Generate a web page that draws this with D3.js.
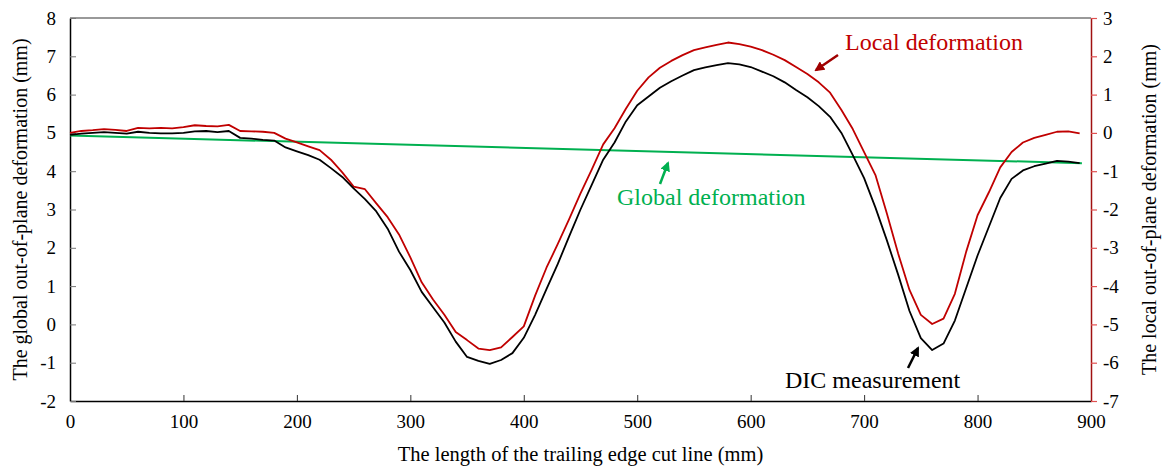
<!DOCTYPE html>
<html>
<head>
<meta charset="utf-8">
<script src="https://cdn.jsdelivr.net/npm/d3@7"></script>
<style>
  body { margin: 0; background: #fff; }
  text { font-family: "Liberation Serif", "Times New Roman", serif; }
</style>
</head>
<body>
<div id="chart"></div>
<script>
// sample positions along the cut line (mm)
const lengthMm = d3.range(0, 900, 10);

// DIC measurement, left axis (mm)
const dicMeasurement = [
  4.95, 4.98, 5.00, 5.02, 5.00, 4.98, 5.03, 5.00, 4.99, 4.99,
  5.00, 5.04, 5.05, 5.02, 5.05, 4.87, 4.85, 4.82, 4.80, 4.62,
  4.52, 4.42, 4.30, 4.08, 3.85, 3.55, 3.27, 2.95, 2.50, 1.90,
  1.42, 0.85, 0.45, 0.05, -0.45, -0.85, -0.95, -1.03, -0.93, -0.75,
  -0.35, 0.25, 0.92, 1.58, 2.30, 3.00, 3.65, 4.30, 4.75, 5.30,
  5.72, 5.95, 6.18, 6.35, 6.50, 6.64, 6.71, 6.77, 6.82, 6.79,
  6.72, 6.60, 6.48, 6.32, 6.12, 5.93, 5.70, 5.42, 5.00, 4.42,
  3.82, 3.05, 2.20, 1.30, 0.35, -0.36, -0.67, -0.50, 0.10, 0.95,
  1.80, 2.55, 3.30, 3.80, 4.02, 4.13, 4.20, 4.27, 4.25, 4.21
];

// local deformation, right axis (mm)
const localDeformation = [
  0.00, 0.05, 0.07, 0.10, 0.08, 0.05, 0.13, 0.12, 0.13, 0.12,
  0.15, 0.20, 0.18, 0.17, 0.21, 0.05, 0.04, 0.03, 0.00, -0.15,
  -0.25, -0.35, -0.45, -0.70, -1.03, -1.40, -1.47, -1.84, -2.20, -2.65,
  -3.25, -3.90, -4.35, -4.75, -5.20, -5.41, -5.63, -5.67, -5.60, -5.33,
  -5.05, -4.25, -3.52, -2.90, -2.25, -1.58, -0.95, -0.30, 0.12, 0.63,
  1.10, 1.45, 1.70, 1.88, 2.03, 2.16, 2.23, 2.30, 2.36, 2.32,
  2.25, 2.16, 2.04, 1.90, 1.72, 1.54, 1.32, 1.05, 0.60, 0.10,
  -0.50, -1.10, -2.10, -3.15, -4.10, -4.75, -4.99, -4.85, -4.20, -3.10,
  -2.15, -1.55, -0.90, -0.50, -0.25, -0.13, -0.05, 0.03, 0.04, -0.01
];

// global deformation, left axis (mm)
const globalLength = [0, 892];
const globalDeformation = [4.93, 4.21];

const xTicks = [0, 100, 200, 300, 400, 500, 600, 700, 800, 900];
const leftTicks = [-2, -1, 0, 1, 2, 3, 4, 5, 6, 7, 8];
const rightTicks = [-7, -6, -5, -4, -3, -2, -1, 0, 1, 2, 3];

const width = 1167, height = 474;
const margin = { top: 18, right: 76, bottom: 73, left: 70 };
const red = "#c00000", green = "#00b050";
const plain = d => String(d); // keep hyphen minus like the original

const svg = d3.select("#chart").append("svg")
  .attr("width", width)
  .attr("height", height);

const x = d3.scaleLinear().domain([0, 900]).range([margin.left, width - margin.right]);
const yLeft = d3.scaleLinear().domain([-2, 8]).range([height - margin.bottom, margin.top]);
const yRight = d3.scaleLinear().domain([-7, 3]).range([height - margin.bottom, margin.top]);

const defs = svg.append("defs");
function addArrow(id, col) {
  defs.append("marker")
    .attr("id", id)
    .attr("viewBox", "0 -5 10 10")
    .attr("refX", 8)
    .attr("refY", 0)
    .attr("markerWidth", 4)
    .attr("markerHeight", 4)
    .attr("orient", "auto")
    .attr("fill", col)
    .append("path")
    .attr("d", "M0,-5L10,0L0,5Z");
}
addArrow("arrRed", "#a00000");
addArrow("arrGreen", green);
addArrow("arrBlack", "#000");

// top frame line
svg.append("line")
  .attr("x1", x(0)).attr("x2", x(900))
  .attr("y1", yLeft(8)).attr("y2", yLeft(8))
  .attr("stroke", "#777").attr("stroke-width", 1.5);

// bottom axis, ticks inside
const xAxis = svg.append("g")
  .attr("transform", `translate(0,${yLeft(-2)})`)
  .call(d3.axisBottom(x).tickValues(xTicks).tickFormat(plain)
    .tickSizeInner(-6).tickSizeOuter(0).tickPadding(14));
xAxis.select(".domain").attr("stroke", "#000").attr("stroke-width", 1.5);
xAxis.selectAll(".tick line").attr("stroke", "#333");
xAxis.selectAll("text").attr("font-size", 19).attr("fill", "#000")
  .attr("font-family", "Liberation Serif");

// left axis, ticks inside
const yAxisL = svg.append("g")
  .attr("transform", `translate(${x(0)},0)`)
  .call(d3.axisLeft(yLeft).tickValues(leftTicks).tickFormat(plain)
    .tickSizeInner(-6).tickSizeOuter(0).tickPadding(14));
yAxisL.select(".domain").attr("stroke", "#000").attr("stroke-width", 1.5);
yAxisL.selectAll(".tick line").attr("stroke", "#777");
yAxisL.selectAll("text").attr("font-size", 19).attr("fill", "#000")
  .attr("font-family", "Liberation Serif");

// right axis, red, ticks outside
const yAxisR = svg.append("g")
  .attr("transform", `translate(${x(900)},0)`)
  .call(d3.axisRight(yRight).tickValues(rightTicks).tickFormat(plain)
    .tickSizeInner(6).tickSizeOuter(0).tickPadding(6));
yAxisR.select(".domain").attr("stroke", "#a01010").attr("stroke-width", 1.5);
yAxisR.selectAll(".tick line").attr("stroke", "#e05050").attr("stroke-width", 1.2);
yAxisR.selectAll("text").attr("font-size", 19).attr("fill", "#000")
  .attr("font-family", "Liberation Serif");

// axis titles
svg.append("text")
  .attr("x", (x(0) + x(900)) / 2)
  .attr("y", 461)
  .attr("text-anchor", "middle")
  .attr("font-size", 20.5)
  .text("The length of the trailing edge cut line (mm)");

svg.append("text")
  .attr("transform", `translate(27,${(yLeft(8) + yLeft(-2)) / 2}) rotate(-90)`)
  .attr("text-anchor", "middle")
  .attr("font-size", 20)
  .text("The global out-of-plane deformation (mm)");

svg.append("text")
  .attr("transform", `translate(1156,${(yLeft(8) + yLeft(-2)) / 2}) rotate(-90)`)
  .attr("text-anchor", "middle")
  .attr("font-size", 20)
  .text("The local out-of-plane deformation (mm)");

// series
const dicLine = d3.line()
  .x((d, i) => x(lengthMm[i]))
  .y(d => yLeft(d));
const localLine = d3.line()
  .x((d, i) => x(lengthMm[i]))
  .y(d => yRight(d));
const globalLine = d3.line()
  .x((d, i) => x(globalLength[i]))
  .y(d => yLeft(d));

svg.append("path")
  .datum(globalDeformation)
  .attr("d", globalLine)
  .attr("fill", "none")
  .attr("stroke", green)
  .attr("stroke-width", 2);

svg.append("path")
  .datum(localDeformation)
  .attr("d", localLine)
  .attr("fill", "none")
  .attr("stroke", red)
  .attr("stroke-width", 1.8)
  .attr("stroke-linejoin", "round");

svg.append("path")
  .datum(dicMeasurement)
  .attr("d", dicLine)
  .attr("fill", "none")
  .attr("stroke", "#000")
  .attr("stroke-width", 1.8)
  .attr("stroke-linejoin", "round");

// annotations
svg.append("text")
  .attr("x", 845).attr("y", 50)
  .attr("font-size", 24)
  .attr("fill", red)
  .text("Local deformation");
svg.append("line")
  .attr("x1", 838).attr("y1", 55).attr("x2", 816).attr("y2", 70)
  .attr("stroke", "#a00000").attr("stroke-width", 2.5)
  .attr("marker-end", "url(#arrRed)");

svg.append("text")
  .attr("x", 617).attr("y", 205)
  .attr("font-size", 24)
  .attr("fill", green)
  .text("Global deformation");
svg.append("line")
  .attr("x1", 660).attr("y1", 184).attr("x2", 668).attr("y2", 163)
  .attr("stroke", green).attr("stroke-width", 2.5)
  .attr("marker-end", "url(#arrGreen)");

svg.append("text")
  .attr("x", 785).attr("y", 388)
  .attr("font-size", 24)
  .attr("fill", "#000")
  .text("DIC measurement");
svg.append("line")
  .attr("x1", 908).attr("y1", 368).attr("x2", 918).attr("y2", 348)
  .attr("stroke", "#000").attr("stroke-width", 2.5)
  .attr("marker-end", "url(#arrBlack)");
</script>
</body>
</html>
